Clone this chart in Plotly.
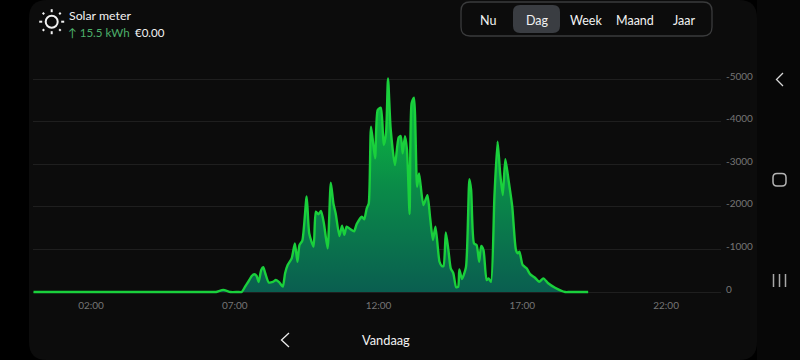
import plotly.graph_objects as go

hours = [0.0, 6.2, 6.35, 6.6, 6.85, 7.1, 7.24, 7.36, 7.47, 7.59, 7.68, 7.76, 7.83, 7.92, 7.99, 8.06, 8.18, 8.32, 8.43, 8.55,
         8.67, 8.75, 8.84, 8.98, 9.09, 9.18, 9.25, 9.35, 9.50, 9.59, 9.74, 9.82, 9.91, 10.00, 10.10, 10.23, 10.34,
         10.43, 10.51, 10.64, 10.73, 10.81, 10.89, 11.01, 11.15, 11.24, 11.42, 11.50, 11.59, 11.66, 11.74, 11.88,
         11.97, 12.08, 12.18, 12.26, 12.33, 12.42, 12.57, 12.70, 12.77, 12.84, 12.92, 12.99, 13.08, 13.15, 13.23,
         13.34, 13.41, 13.56, 13.70, 13.79, 13.89, 13.98, 14.12, 14.20, 14.26, 14.34, 14.43, 14.51, 14.60, 14.70,
         14.77, 14.81, 14.90, 15.04, 15.16, 15.22, 15.32, 15.41, 15.50, 15.57, 15.65, 15.76, 15.83, 15.91, 16.03,
         16.14, 16.23, 16.32, 16.41, 16.52, 16.65, 16.78, 16.85, 16.90, 17.01, 17.15, 17.27, 17.44, 17.59, 17.73,
         17.90, 18.14, 18.49, 18.65, 19.29]
power = [0, 0, 0, 50, 0, 0, 0, 125, 240, 375, 415, 375, 235, 515, 580, 440, 225, 235, 280, 225,
         125, 440, 635, 790, 1140, 710, 1100, 1205, 2240, 1375, 1065, 1885, 1825, 1900, 1610, 1025, 2565,
         2080, 1845, 1315, 1555, 1340, 1535, 1480, 1425, 1595, 1770, 1705, 1965, 2080, 3880, 3140,
         4270, 4325, 3450, 3725, 5015, 3840, 2980, 3630, 3660, 3255, 3660, 3335, 1830, 4430, 4560,
         2470, 2785, 2040, 2275, 1770, 1220, 1535, 710, 610, 610, 1400, 985, 555, 440, 110,
         125, 530, 305, 580, 2650, 2395, 1140, 1100, 710, 1080, 985, 280, 320, 240, 2240,
         3530, 2785, 2275, 3115, 2630, 2005, 985, 910, 945, 635, 555, 420, 335, 240, 320,
         205, 100, 0, 0, 0]

x_tick_hours = [2, 7, 12, 17, 22]
x_tick_labels = ["02:00", "07:00", "12:00", "17:00", "22:00"]
y_tick_values = [0, 1000, 2000, 3000, 4000, 5000]
y_tick_labels = ["0", "-1000", "-2000", "-3000", "-4000", "-5000"]
periods = ["Nu", "Dag", "Week", "Maand", "Jaar"]
period_centres = [488, 537, 586, 635, 684]

W, H = 800, 360
L, R, T, B = 33, 721, 60, 296


def px(x):
    return (x - L) / (R - L)


def py(y):
    return (B - y) / (B - T)


def rrect(x0, y0, x1, y1, r):
    a, b, c, d = px(x0), px(x1), py(y0), py(y1)
    rx, ry = r / (R - L), r / (B - T)
    return (f"M{a + rx},{c} L{b - rx},{c} Q{b},{c} {b},{c - ry} L{b},{d + ry} Q{b},{d} {b - rx},{d} "
            f"L{a + rx},{d} Q{a},{d} {a},{d + ry} L{a},{c - ry} Q{a},{c} {a + rx},{c} Z")


def polyline(points):
    return "M" + " L".join(f"{px(x)},{py(y)}" for x, y in points)


shapes = []


def add_path(path, fill=None, line=None, width=0):
    shapes.append(dict(type="path", path=path, xref="paper", yref="paper", layer="below",
                       fillcolor=fill or "rgba(0,0,0,0)",
                       line=dict(color=line or "rgba(0,0,0,0)", width=width)))


# screen panels
add_path(rrect(757, -20, 800, 380, 0), fill="#070707")
add_path(rrect(29, 0, 757, 360, 18), fill="#0C0C0C")
# period selector
add_path(rrect(461, 2, 712, 36, 9), line="#3A3B3C", width=1.3)
add_path(rrect(513, 5, 560, 33, 7), fill="#3A3D42")
# sun icon
sx, sy = 51.7, 21.7
shapes.append(dict(type="circle", xref="paper", yref="paper", x0=px(sx - 6), x1=px(sx + 6), y0=py(sy - 6),
                   y1=py(sy + 6), line=dict(color="#F2F2F2", width=2), layer="below"))
for dx, dy in [(0, -1), (0, 1), (-1, 0), (1, 0)]:
    add_path(polyline([(sx + dx * 9.5, sy + dy * 9.5), (sx + dx * 12.5, sy + dy * 12.5)]), line="#F2F2F2", width=2)
for dx, dy in [(-1, -1), (1, -1), (-1, 1), (1, 1)]:
    add_path(polyline([(sx + dx * 7.5, sy + dy * 7.5), (sx + dx * 9, sy + dy * 9)]), line="#F2F2F2", width=2)
# navigation icons
add_path(polyline([(783, 73), (776.5, 79.5), (783, 86)]), line="#D8D8D8", width=1.3)
add_path(polyline([(289, 333), (281.5, 340), (289, 347)]), line="#EDEDED", width=1.3)
add_path(rrect(773, 173.5, 786, 186, 4), line="#B5B5B5", width=1.5)
for xp in (773.5, 779.5, 785.5):
    add_path(polyline([(xp, 274), (xp, 287)]), line="#A8A8A8", width=1.5)

FONT = "Lato"


def label(x, y, text, color="#F2F2F2", size=12, anchor="center"):
    return dict(xref="paper", yref="paper", x=px(x), y=py(y), text=text, showarrow=False, xanchor=anchor,
                yanchor="middle", font=dict(family=FONT, size=size, color=color))


annotations = [
    label(66.5, 15.5, "Solar meter", size=12.3, anchor="left"),
    label(65.5, 32, "↑ 15.5 kWh", color="#4CAF6A", size=11.6, anchor="left"),
    label(133, 32, "€0.00", size=11.5, anchor="left"),
    label(385.5, 340, "Vandaag", size=12.8),
]
annotations += [label(c, 20, t, size=12.5) for c, t in zip(period_centres, periods)]

fig = go.Figure(go.Scatter(
    x=hours, y=power, mode="lines",
    line=dict(color="#1AD03C", width=2.4, shape="spline", smoothing=0.6),
    fill="tozeroy",
    fillgradient=dict(type="vertical", colorscale=[[0, "#0A5E50"], [0.5, "#0A8C48"], [1, "#0CC83C"]]),
    hoverinfo="skip",
))
fig.update_layout(
    width=W, height=H, margin=dict(l=L, r=W - R, t=T, b=H - B, pad=0, autoexpand=False),
    paper_bgcolor="#000000", plot_bgcolor="rgba(0,0,0,0)", showlegend=False,
    font=dict(family=FONT), shapes=shapes, annotations=annotations,
    xaxis=dict(range=[-0.017, 23.91], tickmode="array", tickvals=x_tick_hours, ticktext=x_tick_labels,
               showgrid=False, zeroline=False, showline=False, ticks="", ticklabelstandoff=2,
               tickfont=dict(family=FONT, size=10, color="#757575")),
    yaxis=dict(range=[-94, 5446], side="right", tickmode="array", tickvals=y_tick_values, ticktext=y_tick_labels,
               showgrid=True, gridcolor="#1F1F1F", gridwidth=1, zeroline=False, showline=False, ticks="",
               ticklabelstandoff=4, ticklabelshift=-3, tickfont=dict(family=FONT, size=10, color="#757575")),
)
fig.write_html("out.html", post_script="document.body.style.margin='0';document.body.style.background='#000';"
                                       "document.documentElement.style.overflow='hidden';",
               config=dict(displayModeBar=False))
